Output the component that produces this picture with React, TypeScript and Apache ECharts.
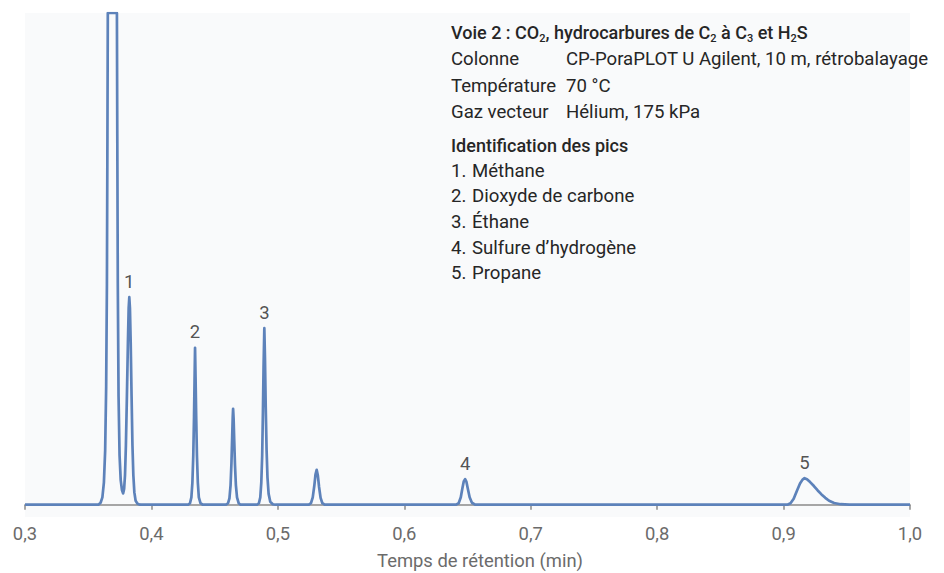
import React, { useEffect, useRef } from 'react';
import * as echarts from 'echarts';

// Chromatogram trace: [retention time (min), signal]
const traceTimes: number[] = [
  0.3, 0.358, 0.3598, 0.3612, 0.3624, 0.3634, 0.3642, 0.3648, 0.3652, 0.3655, 0.3727, 0.373, 0.3734, 0.374, 0.3748,
  0.3757, 0.3767, 0.3776, 0.3784, 0.3791, 0.3798, 0.3806, 0.3814, 0.382, 0.3825, 0.383, 0.3836, 0.3843, 0.385,
  0.3857, 0.3865, 0.3875, 0.389, 0.391,
  0.429, 0.4305, 0.4316, 0.4324, 0.4331, 0.4337, 0.4341, 0.4345, 0.4349, 0.4354, 0.436, 0.4367, 0.4375, 0.4388, 0.4405,
  0.459, 0.4606, 0.4617, 0.4626, 0.4633, 0.4639, 0.4643, 0.4646, 0.465, 0.4655, 0.4661, 0.4668, 0.4677, 0.469, 0.4705,
  0.4835, 0.485, 0.4861, 0.4869, 0.4876, 0.4882, 0.4887, 0.4893, 0.4898, 0.4904, 0.4911, 0.4918, 0.4927, 0.494, 0.496, 0.498,
  0.5245, 0.5262, 0.5276, 0.5288, 0.5298, 0.5307, 0.5316, 0.5326, 0.5338, 0.5352, 0.537,
  0.641, 0.643, 0.6447, 0.646, 0.6471, 0.6481, 0.6491, 0.6503, 0.6517, 0.6535, 0.656,
  0.903, 0.9055, 0.908, 0.9105, 0.913, 0.915, 0.9166, 0.9185, 0.921, 0.924, 0.927, 0.93, 0.933, 0.936, 0.94, 0.945, 0.952,
  1.0,
];
const traceSignal: number[] = [
  0, 0, 0.4, 1.5, 4.5, 11, 24, 45, 75, 100, 100, 75, 45, 22, 10,
  5, 3, 2.3, 3.2, 6, 12, 22, 33, 40, 42.2, 40, 33, 22, 12,
  6, 2.5, 0.8, 0.2, 0,
  0, 0.3, 1.5, 4.5, 10, 18, 25, 31.9, 26, 18, 10, 4.5, 1.5, 0.3, 0,
  0, 0.3, 1.3, 4, 8.5, 14, 17.8, 19.5, 17.5, 13, 8, 4, 1.5, 0.3, 0,
  0, 0.3, 1.5, 4.5, 10, 19, 28, 35.9, 30, 20, 11, 5.5, 2.2, 0.6, 0.1, 0,
  0, 0.3, 1.5, 3.8, 6.2, 7.1, 6.0, 3.6, 1.4, 0.3, 0,
  0, 0.3, 1.5, 3.4, 4.8, 5.2, 4.7, 3.2, 1.5, 0.4, 0,
  0, 0.3, 1.2, 2.8, 4.3, 5.1, 5.4, 5.2, 4.6, 3.8, 2.9, 2.1, 1.4, 0.8, 0.35, 0.1, 0,
  0,
];

const peakLabels = ['1', '2', '3', '4', '5'];
const peakTimes = [0.3825, 0.4345, 0.4893, 0.6481, 0.9166];
const peakHeights = [42.2, 31.9, 35.9, 5.2, 5.4];

const conditionLabels = ['Colonne', 'Température', 'Gaz vecteur'];
const conditionValues = ['CP-PoraPLOT U Agilent, 10 m, rétrobalayage', '70 °C', 'Hélium, 175 kPa'];
const peakIdTitle = 'Identification des pics';
const peakNames = ['Méthane', 'Dioxyde de carbone', 'Éthane', 'Sulfure d’hydrogène', 'Propane'];
const axisTitle = 'Temps de rétention (min)';

const FONT = 'Roboto, "Noto Sans", sans-serif';
const TEXT = '#262626';
const LEGEND_FS = 18.6;
const AXIS_FS = 18.4;

export default function App() {
  const ref = useRef<HTMLDivElement>(null);
  useEffect(() => {
    if (!ref.current) return;
    const chart = echarts.init(ref.current, undefined, { renderer: 'svg' });

    const trace = traceTimes.map((t, i) => [t, traceSignal[i]]);
    const peaks = peakTimes.map((t, i) => ({ name: peakLabels[i], value: [t, peakHeights[i]] }));

    const graphics: any[] = [];
    graphics.push({
      type: 'text',
      x: 451,
      y: 32,
      style: {
        text:
          '{b|Voie 2 : CO}{s|2}{b|, hydrocarbures de C}{s|2}{b| à C}{s|3}{b| et H}{s|2}{b|S}',
        verticalAlign: 'middle',
        align: 'left',
        rich: {
          b: { fontFamily: FONT, fontSize: 18, fontWeight: 500, fill: TEXT, lineHeight: 24 },
          s: { fontFamily: FONT, fontSize: 11, fontWeight: 500, fill: TEXT, lineHeight: 11, verticalAlign: 'bottom' },
        },
      },
    });
    conditionLabels.forEach((lab, i) => {
      const y = 59 + i * 26.5;
      graphics.push({
        type: 'text', x: 451, y,
        style: { text: lab, fontFamily: FONT, fontSize: LEGEND_FS, fill: TEXT, verticalAlign: 'middle' },
      });
      graphics.push({
        type: 'text', x: 566, y,
        style: { text: conditionValues[i], fontFamily: FONT, fontSize: LEGEND_FS, fill: TEXT, verticalAlign: 'middle' },
      });
    });
    graphics.push({
      type: 'text', x: 451, y: 145,
      style: { text: peakIdTitle, fontFamily: FONT, fontSize: 18, fontWeight: 500, fill: TEXT, verticalAlign: 'middle' },
    });
    peakNames.forEach((nm, i) => {
      const y = 170.5 + i * 25.7;
      graphics.push({
        type: 'text', x: 451, y,
        style: { text: peakLabels[i] + '.', fontFamily: FONT, fontSize: LEGEND_FS, fill: TEXT, verticalAlign: 'middle' },
      });
      graphics.push({
        type: 'text', x: 472, y,
        style: { text: nm, fontFamily: FONT, fontSize: LEGEND_FS, fill: TEXT, verticalAlign: 'middle' },
      });
    });
    graphics.push({
      type: 'text', x: 480, y: 560,
      style: { text: axisTitle, fontFamily: FONT, fontSize: AXIS_FS, fill: '#6b6b6b', align: 'center', verticalAlign: 'middle' },
    });

    chart.setOption({
      animation: false,
      backgroundColor: '#ffffff',
      grid: { left: 25, right: 34, top: 13, bottom: 56, show: true, backgroundColor: '#f9fafb', borderWidth: 0 },
      xAxis: {
        type: 'value',
        min: 0.3,
        max: 1.0,
        interval: 0.1,
        axisLine: { lineStyle: { color: '#8a8a8a', width: 1.5 } },
        axisTick: { show: true, length: 5, lineStyle: { color: '#8a8a8a', width: 1.5 } },
        axisLabel: {
          color: '#6b6b6b',
          fontSize: AXIS_FS,
          fontFamily: FONT,
          margin: 7,
          formatter: (v: number) => v.toFixed(1).replace('.', ','),
        },
        splitLine: { show: false },
      },
      yAxis: {
        type: 'value',
        min: -2.5,
        max: 100,
        show: false,
        splitLine: { show: false },
      },
      series: [
        {
          type: 'line',
          data: trace,
          showSymbol: false,
          clip: true,
          lineStyle: { color: '#5d82ba', width: 2.7, join: 'round' },
          z: 2,
        },
        {
          type: 'scatter',
          data: peaks,
          symbolSize: 0,
          label: {
            show: true,
            position: 'top',
            distance: 6,
            formatter: (p: any) => p.name,
            color: TEXT,
            fontSize: 18.5,
            fontFamily: FONT,
          },
          z: 3,
        },
      ],
      graphic: graphics,
    });
    return () => chart.dispose();
  }, []);
  return <div ref={ref} style={{ position: 'fixed', left: 0, top: 0, width: 944, height: 573 }} />;
}
